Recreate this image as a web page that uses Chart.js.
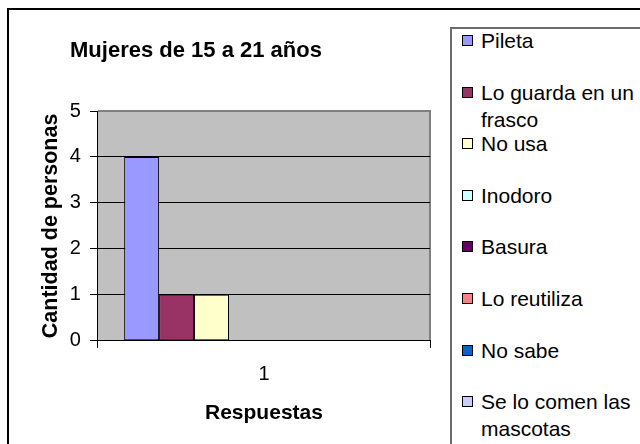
<!DOCTYPE html>
<html>
<head>
<meta charset="utf-8">
<script src="https://cdn.jsdelivr.net/npm/chart.js@4.4.1/dist/chart.umd.min.js"></script>
<style>
  html, body { margin: 0; padding: 0; width: 640px; height: 444px; overflow: hidden; background: #fff; }
  body { position: relative; font-family: "Liberation Sans", Arial, sans-serif; }
  #marco { position: absolute; left: 7px; top: 8px; width: 700px; height: 500px; border: 2px solid #000; box-sizing: border-box; }
  #lienzo { position: absolute; left: 0; top: 0; }
  #titulo { position: absolute; left: 46px; top: 35px; width: 300px; text-align: center; font-weight: bold; font-size: 22px; line-height: 30px; color: #000; }
  #leyenda { position: absolute; left: 450px; top: 27px; width: 220px; height: 440px; border: 2px solid #6b6b6b; box-sizing: border-box; background: #fff; }
  .item { display: flex; align-items: flex-start; height: 51.6px; }
  .item:first-child { margin-top: -2px; }
  .cuadro { width: 9px; height: 9px; border: 1px solid #000; margin: 8px 8px 0 10px; flex: none; }
  .texto { width: 158px; font-size: 21px; line-height: 27px; color: #000; }
</style>
</head>
<body>
<div id="marco"></div>
<canvas id="lienzo" width="640" height="444"></canvas>
<div id="titulo"></div>
<div id="leyenda"></div>
<script>
const TITULO = "Mujeres de 15 a 21 años"
const CATEGORIAS = ["1"]
const RESPUESTAS = ["Pileta", "Lo guarda en un frasco", "No usa", "Inodoro", "Basura", "Lo reutiliza", "No sabe", "Se lo comen las mascotas"]
const CANTIDADES = [4, 1, 1, 0, 0, 0, 0, 0]
const COLORES = ["#9999FF", "#993366", "#FFFFCC", "#CCFFFF", "#660066", "#FF8080", "#0066CC", "#CCCCFF"]
const TICKS_Y = [0, 1, 2, 3, 4, 5]

const FUENTE = "'Liberation Sans', Arial, sans-serif"

// fondo gris del area de trazado, como en Excel
const fondoGris = {
    id: "fondoGris",
    beforeDraw(chart) {
        let a = chart.chartArea
        let ctx = chart.ctx
        ctx.save()
        ctx.fillStyle = "#C0C0C0"
        ctx.fillRect(a.left, a.top, a.right - a.left, a.bottom - a.top)
        ctx.strokeStyle = "#808080"
        ctx.lineWidth = 2
        ctx.beginPath()
        ctx.moveTo(a.left, a.top)
        ctx.lineTo(a.right, a.top)
        ctx.lineTo(a.right, a.bottom)
        ctx.stroke()
        ctx.restore()
    }
}

let datasets = []
for (let i = 0; i < RESPUESTAS.length; i++) {
    datasets.push({
        label: RESPUESTAS[i],
        data: [CANTIDADES[i]],
        backgroundColor: COLORES[i],
        borderColor: "#000",
        borderWidth: 1,
        borderSkipped: false,
        categoryPercentage: 8 / 9.5,
        barPercentage: 1
    })
}

document.getElementById("titulo").textContent = TITULO

let leyenda = document.getElementById("leyenda")
for (let i = 0; i < RESPUESTAS.length; i++) {
    let item = document.createElement("div")
    item.className = "item"
    let cuadro = document.createElement("div")
    cuadro.className = "cuadro"
    cuadro.style.background = COLORES[i]
    let texto = document.createElement("div")
    texto.className = "texto"
    texto.textContent = RESPUESTAS[i]
    item.appendChild(cuadro)
    item.appendChild(texto)
    leyenda.appendChild(item)
}

var ctx = document.getElementById("lienzo").getContext("2d")
var grafico = new Chart(ctx, {
    type: "bar",
    data: {
        labels: CATEGORIAS,
        datasets: datasets
    },
    options: {
        responsive: false,
        animation: false,
        layout: {
            padding: { left: 8, right: 210, top: 111, bottom: 0 }
        },
        plugins: {
            legend: { display: false },
            tooltip: { enabled: false },
            title: { display: false }
        },
        scales: {
            x: {
                grid: {
                    display: true,
                    drawOnChartArea: false,
                    tickLength: 7,
                    color: "#000",
                    offset: true
                },
                border: { color: "#000", width: 1 },
                ticks: {
                    color: "#000",
                    padding: 15,
                    font: { family: FUENTE, size: 20 }
                },
                title: {
                    display: true,
                    text: "Respuestas",
                    color: "#000",
                    font: { family: FUENTE, size: 21, weight: "bold" },
                    padding: { top: -1, bottom: 18 }
                }
            },
            y: {
                min: 0,
                max: 5,
                afterBuildTicks: (scale) => { scale.ticks = TICKS_Y.map(v => ({ value: v })) },
                grid: {
                    color: (c) => c.tick && c.tick.value === 5 ? "#808080" : "#000",
                    tickColor: "#000",
                    tickLength: 8,
                    lineWidth: 1
                },
                border: { color: "#000", width: 1 },
                ticks: {
                    color: "#000",
                    padding: 9,
                    font: { family: FUENTE, size: 20 }
                },
                title: {
                    display: true,
                    text: "Cantidad de personas",
                    color: "#000",
                    font: { family: FUENTE, size: 21.5, weight: "bold" },
                    padding: { top: 30, bottom: -3 }
                }
            }
        }
    },
    plugins: [fondoGris]
})
</script>
</body>
</html>
